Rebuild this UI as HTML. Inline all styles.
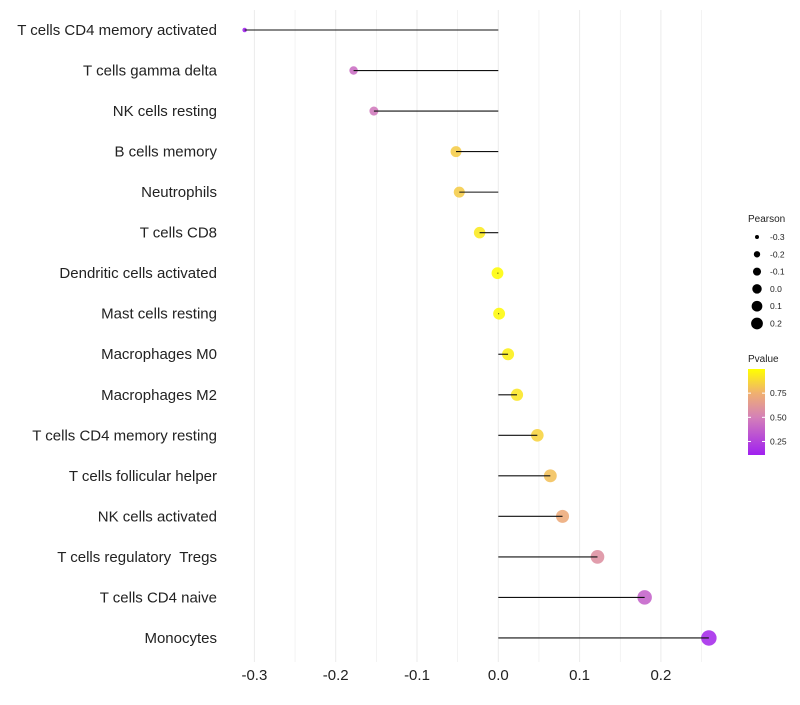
<!DOCTYPE html>
<html><head><meta charset="utf-8"><style>
body{margin:0;background:#fff;font-family:"Liberation Sans",sans-serif}
text{white-space:pre}
</style></head><body>
<svg id="c" width="800" height="700" xmlns="http://www.w3.org/2000/svg"></svg>
<script>
const categories=["T cells CD4 memory activated","T cells gamma delta","NK cells resting","B cells memory","Neutrophils","T cells CD8","Dendritic cells activated","Mast cells resting","Macrophages M0","Macrophages M2","T cells CD4 memory resting","T cells follicular helper","NK cells activated","T cells regulatory  Tregs","T cells CD4 naive","Monocytes"];
const pearson=[-0.312,-0.178,-0.153,-0.052,-0.048,-0.023,-0.001,0.001,0.012,0.023,0.048,0.064,0.079,0.122,0.180,0.259];
const pvalue=[0.10,0.42,0.47,0.84,0.84,0.93,0.99,0.98,0.95,0.92,0.86,0.80,0.72,0.58,0.38,0.15];
const xTicks=[-0.3,-0.2,-0.1,0.0,0.1,0.2];
const xTickLabels=["-0.3","-0.2","-0.1","0.0","0.1","0.2"];
const sizeLegend=[-0.3,-0.2,-0.1,0.0,0.1,0.2];
const sizeLegendLabels=["-0.3","-0.2","-0.1","0.0","0.1","0.2"];
const colorLegend=[0.75,0.50,0.25];
const colorLegendLabels=["0.75","0.50","0.25"];

const svg=document.getElementById('c');const NS="http://www.w3.org/2000/svg";
function mk(t,a,p){const e=document.createElementNS(NS,t);for(const k in a)e.setAttribute(k,a[k]);(p||svg).appendChild(e);return e;}
const x=v=>498.3+v*813;
const y=i=>30+i*40.53;
const r=v=>{const t=Math.max(0,(v+0.312)/0.571);return Math.sqrt(5+t*55);};
const stops=[[0.11,[160,32,240]],[0.5,[212,128,184]],[0.75,[240,176,112]],[1.0,[255,255,0]]];
function col(p){p=Math.max(0.11,Math.min(1,p));for(let i=0;i<stops.length-1;i++){const a=stops[i],b=stops[i+1];if(p<=b[0]){const t=(p-a[0])/(b[0]-a[0]);const c=a[1].map((v,k)=>Math.round(v+(b[1][k]-v)*t));return `rgb(${c})`;}}return 'rgb(255,255,0)';}
for(let v=-0.3;v<=0.2501;v+=0.05){const g=mk('line',{x1:x(v),x2:x(v),y1:10,y2:662,stroke:'#ebebeb','stroke-width':Math.abs(Math.round(v*20))%2?0.6:1});
}
xTicks.forEach((v,i)=>{const t=mk('text',{x:x(v),y:680,'text-anchor':'middle','font-size':15,fill:'#222'});t.textContent=xTickLabels[i];
});
categories.forEach((c,i)=>{const t=mk('text',{x:217,y:y(i)+5,'text-anchor':'end','font-size':15,fill:'#222'});t.textContent=c;

const pt=mk('circle',{cx:x(pearson[i]),cy:y(i),r:r(pearson[i]),fill:col(pvalue[i]),'fill-opacity':0.88});

const s=mk('line',{x1:x(0),x2:x(pearson[i]),y1:y(i),y2:y(i),stroke:'#111','stroke-width':1.1});
});
const lt=mk('text',{x:748,y:222,'font-size':10,fill:'#222'});lt.textContent='Pearson';

sizeLegend.forEach((v,i)=>{const cy=237+i*17.3;const c=mk('circle',{cx:757,cy:cy,r:r(v)*0.8,fill:'#000'});

const t=mk('text',{x:770,y:cy+3,'font-size':8.5,fill:'#222'});t.textContent=sizeLegendLabels[i];
});
const ct=mk('text',{x:748,y:362,'font-size':10,fill:'#222'});ct.textContent='Pvalue';

const defs=mk('defs',{});const lg=mk('linearGradient',{id:'g',x1:0,y1:1,x2:0,y2:0},defs);
stops.forEach(s=>mk('stop',{offset:(s[0]-0.11)/0.89,'stop-color':`rgb(${s[1]})`},lg));
const cb=mk('rect',{x:748,y:369,width:17,height:86,fill:'url(#g)'});

const cy=p=>455-(p-0.11)/0.89*86;
colorLegend.forEach((v,i)=>{mk('line',{x1:748,x2:751,y1:cy(v),y2:cy(v),stroke:'#fff'});mk('line',{x1:762,x2:765,y1:cy(v),y2:cy(v),stroke:'#fff'});
const t=mk('text',{x:770,y:cy(v)+3,'font-size':8.5,fill:'#222'});t.textContent=colorLegendLabels[i];
});
</script>
</body></html>
